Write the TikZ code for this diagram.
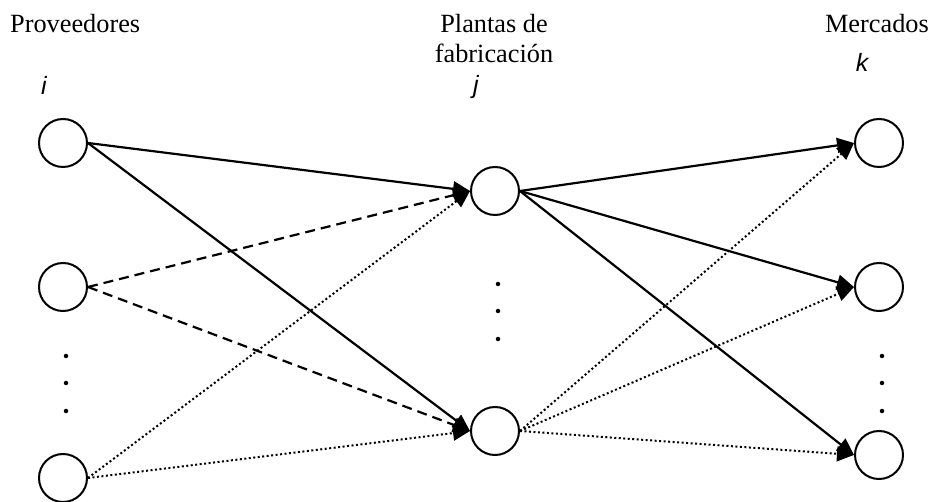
\documentclass[tikz,border=0pt]{standalone}
\usepackage{fontspec}
\setmainfont{Liberation Serif}
\newfontfamily\idxfont{Liberation Sans}
\usetikzlibrary{arrows.meta}
\begin{document}
\begin{tikzpicture}[x=1pt,y=-1pt,
  site/.style={circle,draw,line width=2pt,minimum size=48pt,inner sep=0pt},
  flow/.style={line width=2.2pt,-{Triangle[length=17pt,width=15pt]}},
  solidflow/.style={flow},
  dashflow/.style={flow,dash pattern=on 10pt off 6pt},
  dotflow/.style={flow,line width=2pt,dash pattern=on 2pt off 2.5pt},
  ellip/.style={circle,fill,inner sep=0pt,minimum size=4.5pt},
  head/.style={inner sep=0pt,font=\fontsize{26.3}{30}\selectfont},
  idx/.style={inner sep=0pt,font=\idxfont\itshape\fontsize{25}{29}\selectfont}]
\useasboundingbox (0,0) rectangle (935,502);

% column headings
\node[head,anchor=base west] (hprov) at (10,33) {Proveedores};
\node[head,anchor=base] (hplan1) at (494,33) {Plantas de};
\node[head,anchor=base] (hplan2) at (494,63) {fabricación};
\node[head,anchor=base east] (hmerc) at (929,33) {Mercados};
\node[idx,anchor=base] (li) at (44,95) {i};
\node[idx,anchor=base] (lj) at (476,94) {j};
\node[idx,anchor=base] (lk) at (862,72) {k};

% suppliers
\node[site] (s1) at (63,143) {};
\node[site] (s2) at (63,287) {};
\node[site] (s3) at (63,478) {};
% plants
\node[site] (p1) at (495,191) {};
\node[site] (p2) at (495,431) {};
% markets
\node[site] (m1) at (879,143) {};
\node[site] (m2) at (879,287) {};
\node[site] (m3) at (879,455) {};

% ellipsis dots
\node[ellip] (ds1) at (66,356) {};
\node[ellip] (ds2) at (66,383) {};
\node[ellip] (ds3) at (66,411) {};
\node[ellip] (dp1) at (498,284) {};
\node[ellip] (dp2) at (498,311) {};
\node[ellip] (dp3) at (498,339) {};
\node[ellip] (dm1) at (882,356) {};
\node[ellip] (dm2) at (882,383) {};
\node[ellip] (dm3) at (882,411) {};

% supplier -> plant flows
\draw[solidflow] (s1.east) -- (p1.west);
\draw[solidflow] (s1.east) -- (p2.west);
\draw[dashflow] (s2.east) -- (p1.west);
\draw[dashflow] (s2.east) -- (p2.west);
\draw[dotflow] (s3.east) -- (p1.west);
\draw[dotflow] (s3.east) -- (p2.west);

% plant -> market flows
\draw[solidflow] (p1.east) -- (m1.west);
\draw[solidflow] (p1.east) -- (m2.west);
\draw[solidflow] (p1.east) -- (m3.west);
\draw[dotflow] (p2.east) -- (m1.west);
\draw[dotflow] (p2.east) -- (m2.west);
\draw[dotflow] (p2.east) -- (m3.west);
\end{tikzpicture}
\end{document}
